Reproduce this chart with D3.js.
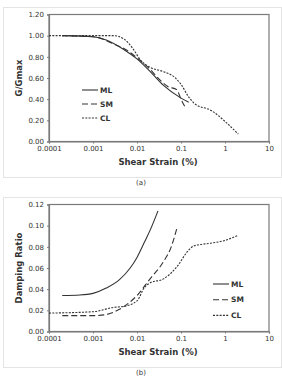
<!DOCTYPE html>
<meta charset="utf-8">
<script src="https://d3js.org/d3.v7.min.js"></script>
<style>
  body { margin: 0; background: #fff; }
  svg text { font-family: "DejaVu Sans", Verdana, sans-serif; fill: #333; }
</style>
<body>
<div id="chart"></div>
<script>
// shared x ticks (log scale, %)
var xTicks = [0.0001, 0.001, 0.01, 0.1, 1, 10];
var xTickLabels = ["0.0001", "0.001", "0.01", "0.1", "1", "10"];
var seriesNames = ["ML", "SM", "CL"];

// (a) G/Gmax curves  [strain %, value]
var gML = [[0.0002,1.0],[0.001,0.99],[0.002,0.96],[0.005,0.87],[0.01,0.78],[0.02,0.66],[0.04,0.53],[0.1,0.41],[0.15,0.37]];
var gSM = [[0.0002,1.0],[0.001,0.99],[0.003,0.92],[0.006,0.86],[0.01,0.79],[0.02,0.68],[0.03,0.60],[0.05,0.52],[0.08,0.49],[0.1,0.40],[0.13,0.31]];
var gCL = [[0.0001,1.0],[0.001,1.0],[0.003,1.0],[0.005,0.97],[0.008,0.88],[0.012,0.77],[0.02,0.70],[0.04,0.66],[0.07,0.61],[0.1,0.54],[0.15,0.42],[0.2,0.36],[0.5,0.29],[1,0.19],[2,0.07]];
var gTicks = [0, 0.2, 0.4, 0.6, 0.8, 1.0, 1.2];

// (b) damping ratio curves
var dML = [[0.0002,0.034],[0.0005,0.0345],[0.001,0.036],[0.002,0.041],[0.004,0.049],[0.007,0.060],[0.01,0.070],[0.015,0.085],[0.02,0.096],[0.03,0.114]];
var dSM = [[0.0002,0.015],[0.001,0.015],[0.002,0.016],[0.004,0.021],[0.007,0.028],[0.01,0.034],[0.02,0.050],[0.04,0.066],[0.06,0.080],[0.08,0.097]];
var dCL = [[0.0001,0.0174],[0.001,0.0187],[0.003,0.0228],[0.005,0.0237],[0.01,0.029],[0.015,0.042],[0.02,0.046],[0.04,0.0497],[0.08,0.061],[0.15,0.077],[0.2,0.081],[0.5,0.0836],[1,0.086],[2,0.091]];
var dTicks = [0, 0.02, 0.04, 0.06, 0.08, 0.10, 0.12];

var dashes = ["none", "6,3", "2,1.3"];

var svg = d3.select("#chart").append("svg")
  .attr("width", 282).attr("height", 377);

function panel(top, data, yMax, yTicks, yTitle, legendPos, caption) {
  var g = svg.append("g").attr("transform", "translate(0," + top + ")");
  // outer frame
  g.append("rect").attr("x", 3.5).attr("y", 0.5).attr("width", 278).attr("height", 170)
    .attr("fill", "none").attr("stroke", "#e4e4e4");

  var x = d3.scaleLog().domain([0.0001, 10]).range([49, 269]);
  var y = d3.scaleLinear().domain([0, yMax]).range([134.5, 7.5]);

  // plot box
  g.append("rect").attr("x", 49).attr("y", 7.5).attr("width", 220).attr("height", 127)
    .attr("fill", "none").attr("stroke", "#7a7a7a").attr("stroke-width", 1.2);

  var xa = g.append("g").attr("transform", "translate(0,134.5)")
    .call(d3.axisBottom(x).tickValues(xTicks).tickSize(2).tickPadding(3)
      .tickFormat(function (d, i) { return xTickLabels[i]; }));
  var ya = g.append("g").attr("transform", "translate(49,0)")
    .call(d3.axisLeft(y).tickValues(yTicks).tickSize(2).tickPadding(3)
      .tickFormat(d3.format(".2f")));
  [xa, ya].forEach(function (a) {
    a.select(".domain").attr("stroke", "#7a7a7a").attr("stroke-width", 1.2);
    a.selectAll(".tick line").attr("stroke", "#7a7a7a");
    a.selectAll("text").attr("font-size", 7).attr("fill", "#333")
      .attr("font-family", "DejaVu Sans, Verdana, sans-serif");
  });

  g.append("text").attr("x", 158).attr("y", 158).attr("text-anchor", "middle")
    .attr("font-size", 8.5).attr("font-weight", "bold").text("Shear Strain (%)");
  g.append("text").attr("transform", "translate(22,71) rotate(-90)").attr("text-anchor", "middle")
    .attr("font-size", 8.5).attr("font-weight", "bold").text(yTitle);

  var line = d3.line().x(function (d) { return x(d[0]); }).y(function (d) { return y(d[1]); })
    .curve(d3.curveMonotoneX);

  data.forEach(function (s, i) {
    g.append("path").datum(s).attr("d", line).attr("fill", "none")
      .attr("stroke", "#333").attr("stroke-width", 1.1)
      .attr("stroke-dasharray", dashes[i]);
    var ly = legendPos[1] + i * legendPos[2];
    g.append("line").attr("x1", legendPos[0]).attr("x2", legendPos[0] + 16)
      .attr("y1", ly).attr("y2", ly).attr("stroke", "#333").attr("stroke-width", 1.1)
      .attr("stroke-dasharray", dashes[i]);
    g.append("text").attr("x", legendPos[0] + 18).attr("y", ly + 2.6)
      .attr("font-size", 7.5).attr("font-weight", "bold").text(seriesNames[i]);
  });

  g.append("text").attr("x", 141).attr("y", 178).attr("text-anchor", "middle")
    .attr("font-size", 7).attr("font-family", "DejaVu Serif, serif").text(caption);
}

panel(7, [gML, gSM, gCL], 1.2, gTicks, "G/Gmax", [82, 83, 14], "(a)");
panel(197, [dML, dSM, dCL], 0.12, dTicks, "Damping Ratio", [213, 87, 15.7], "(b)");
</script>
</body>
